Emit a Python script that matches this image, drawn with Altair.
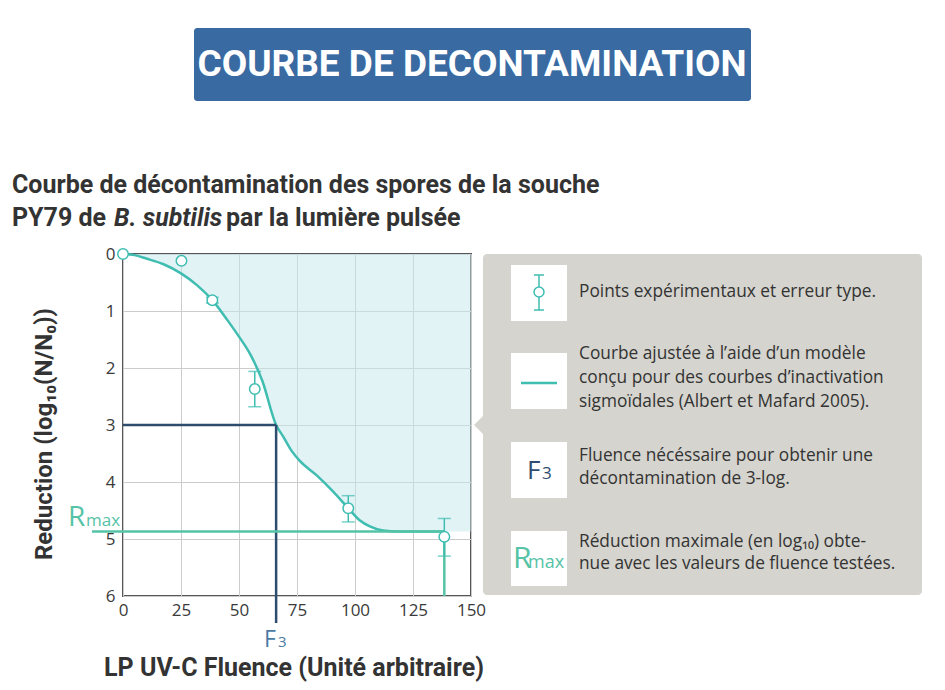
import altair as alt
import pandas as pd

# ---------------- data ----------------
fluence = [0, 25.2, 38.5, 56.8, 97.1, 138.5]
reduction = [0, 0.12, 0.81, 2.37, 4.46, 4.96]
err_low = [0, 0.12, 0.76, 2.06, 4.24, 4.64]
err_high = [0, 0.12, 0.86, 2.68, 4.70, 5.30]

curve_x = [0, 5, 10, 17.5, 25, 32, 38.5, 45, 50, 55, 60, 66, 69, 72.6, 76.2,
           83.4, 90.6, 97.1, 102, 106.4, 112, 119, 130, 138.5]
curve_y = [0, 0.02, 0.08, 0.18, 0.34, 0.55, 0.81, 1.16, 1.45, 1.77, 2.22, 3.0,
           3.2, 3.45, 3.63, 3.88, 4.17, 4.46, 4.67, 4.78, 4.85, 4.87, 4.87, 4.87]
fill_x = curve_x + [150]
fill_y = curve_y + [4.87]

f3_fluence = 66
f3_log = 3
rmax = 4.87
rmax_fluence = 138.5
y_max = 6

x_ticks = [0, 25, 50, 75, 100, 125, 150]
y_ticks = [0, 1, 2, 3, 4, 5, 6]

main_title = "COURBE DE DECONTAMINATION"
sub_title_1 = "Courbe de décontamination des spores de la souche"
sub_title_2 = ["PY79 de", "B. subtilis", "par la lumière pulsée"]
x_title = "LP UV-C Fluence (Unité arbitraire)"
y_title = "Reduction (log₁₀(N/N₀))"
legend_texts = [
    ["Points expérimentaux et erreur type."],
    ["Courbe ajustée à l’aide d’un modèle",
     "conçu pour des courbes d’inactivation",
     "sigmoïdales (Albert et Mafard 2005)."],
    ["Fluence nécéssaire pour obtenir une",
     "décontamination de 3-log."],
    ["Réduction maximale (en log₁₀) obte-",
     "nue avec les valeurs de fluence testées."],
]

# ---------------- styles ----------------
TEAL = "#3fbdb1"
RMAX_C = "#55c3a6"
NAVY = "#2d4c6e"
F3_C = "#4a7aa3"
FILL = "#c6e8ee"
PANEL = "#d5d4ce"
BANNER = "#3a6aa2"
COND = "Roboto"
BODY = "Open Sans"

xs = alt.Scale(domain=[0, 150], nice=False, zero=False)
ys = alt.Scale(domain=[0, 6], reverse=True, nice=False, zero=False)
x_axis = alt.Axis(values=x_ticks, title=None, grid=True, ticks=False, domain=False,
                  labelPadding=6, labelFontSize=17, labelFont=BODY, labelColor="#3a3a3a",
                  gridColor="#cccccc", labelFlush=False)
y_axis = alt.Axis(values=y_ticks, title=None, grid=True, ticks=False, domain=False,
                  labelPadding=8, labelFontSize=17, labelFont=BODY, labelColor="#3a3a3a",
                  gridColor="#cccccc")

one = pd.DataFrame({"k": [0]})


def X(f):
    return alt.X(f, type="quantitative", scale=xs, axis=x_axis)


def Y(f):
    return alt.Y(f, type="quantitative", scale=ys, axis=y_axis)


def txt(text, x, y, size, color="#333", font=BODY, weight="normal",
        align="left", baseline="middle", angle=0, style="normal"):
    kw = dict(text=text, fontSize=size, color=color, font=font, fontWeight=weight,
              align=align, baseline=baseline, fontStyle=style)
    if angle:
        kw["angle"] = angle
    return alt.Chart(one).mark_text(**kw).encode(x=alt.value(x), y=alt.value(y))


def box(x, x2, y, y2, color, radius=0):
    return alt.Chart(one).mark_rect(color=color, cornerRadius=radius).encode(
        x=alt.value(x), x2=alt.value(x2), y=alt.value(y), y2=alt.value(y2))


def seg(x, x2, y, y2, color, w=2):
    return alt.Chart(one).mark_rule(color=color, strokeWidth=w).encode(
        x=alt.value(x), x2=alt.value(x2), y=alt.value(y), y2=alt.value(y2))


pts = pd.DataFrame({"x": fluence, "y": reduction, "lo": err_low, "hi": err_high})
bars = pts[pts["hi"] > pts["lo"]]
curve = pd.DataFrame({"x": curve_x, "y": curve_y})
fill = pd.DataFrame({"x": fill_x, "y": fill_y})

area = alt.Chart(fill).mark_area(color=FILL, opacity=0.5, interpolate="monotone").encode(
    x=X("x"), y=Y("y"))
line = alt.Chart(curve).mark_line(color=TEAL, strokeWidth=2.5, interpolate="monotone").encode(
    x=X("x"), y=Y("y"), order="x:Q")

f3_df = pd.DataFrame({"x": [f3_fluence], "y": [f3_log], "x0": [0]})
f3_h = alt.Chart(f3_df).mark_rule(color=NAVY, strokeWidth=2.5).encode(
    x=X("x0"), x2="x", y=Y("y"))
f3_v = alt.Chart(f3_df).mark_rule(color=NAVY, strokeWidth=2.5).encode(
    x=X("x"), y=Y("y"), y2=alt.value(369))

rm_df = pd.DataFrame({"x": [rmax_fluence], "y": [rmax], "ybot": [y_max]})
rm_h = alt.Chart(rm_df).mark_rule(color=RMAX_C, strokeWidth=2.5).encode(
    x=X("x"), x2=alt.value(-31), y=Y("y"))
rm_v = alt.Chart(rm_df).mark_rule(color=RMAX_C, strokeWidth=2.5).encode(
    x=X("x"), y=Y("y"), y2="ybot")

err = alt.Chart(bars).mark_rule(color=TEAL, strokeWidth=1.5).encode(
    x=X("x"), y=Y("lo"), y2="hi")
cap_lo = alt.Chart(bars).mark_tick(color=TEAL, orient="horizontal", size=13, thickness=1.5).encode(
    x=X("x"), y=Y("lo"))
cap_hi = alt.Chart(bars).mark_tick(color=TEAL, orient="horizontal", size=13, thickness=1.5).encode(
    x=X("x"), y=Y("hi"))
dots = alt.Chart(pts).mark_point(shape="circle", filled=True, fill="white", stroke=TEAL,
                                 strokeWidth=1.5, size=110, opacity=1).encode(
    x=X("x"), y=Y("y"))

# ---------------- annotations / decorations ----------------
deco = [
    box(71, 628, -226, -153, BANNER, radius=3),
    txt(main_title, 349, -189, 37, color="white", font=COND, weight="bold", align="center"),
    txt(sub_title_1, -111, -69, 25, font=COND, weight="bold"),
    txt(sub_title_2[0], -111, -36, 25, font=COND, weight="bold"),
    txt(sub_title_2[1], -9, -36, 25, font=COND, weight="bold", style="italic"),
    txt(sub_title_2[2], 103, -36, 25, font=COND, weight="bold"),
    txt(y_title, -78, 180, 24, font=COND, weight="bold", align="center", angle=270),
    txt(x_title, 171, 414, 25, font=COND, weight="bold", align="center"),
    txt("F", 141, 393, 23, color=F3_C, align="left", baseline="alphabetic"),
    txt("3", 141 + 14, 393, 15, color=F3_C, align="left", baseline="alphabetic"),
    txt("R", -55, 272, 28, color=RMAX_C, align="left", baseline="alphabetic"),
    txt("max", -37, 272, 17, color=RMAX_C, align="left", baseline="alphabetic"),
    # legend panel
    box(360, 799, 0, 341, PANEL, radius=4),
    alt.Chart(one).mark_point(shape="M 0 -1 L -1 0 L 0 1 Z", filled=True, fill=PANEL,
                              opacity=1, size=400, strokeWidth=0).encode(
        x=alt.value(361), y=alt.value(171)),
    box(388, 444, 11, 67, "white"),
    box(388, 444, 99, 155, "white"),
    box(388, 444, 188, 244, "white"),
    box(388, 444, 277, 332, "white"),
    seg(416, 416, 21, 56, TEAL, 1.5),
    seg(411, 421, 21, 21, TEAL, 1.5),
    seg(411, 421, 56, 56, TEAL, 1.5),
    alt.Chart(one).mark_point(shape="circle", filled=True, fill="white", stroke=TEAL,
                              strokeWidth=1.5, size=100, opacity=1).encode(
        x=alt.value(416), y=alt.value(38)),
    seg(398, 434, 129, 129, TEAL, 2.5),
    txt("F", 404, 225, 26, color=NAVY, baseline="alphabetic"),
    txt("3", 419, 225, 17, color=NAVY, baseline="alphabetic"),
    txt("R", 390, 314, 30, color=RMAX_C, baseline="alphabetic"),
    txt("max", 405, 314, 18, color=RMAX_C, baseline="alphabetic"),
]

legend_y = [[38], [100, 124, 148], [202, 225], [288, 310]]
for lines, ys_ in zip(legend_texts, legend_y):
    for t, yy in zip(lines, ys_):
        deco.append(txt(t, 456, yy, 17.3))

chart = alt.layer(
    area, line, f3_h, f3_v, rm_h, rm_v, err, cap_lo, cap_hi, dots, *deco
).properties(
    width=348, height=342,
    padding={"left": 115, "top": 246, "right": 466, "bottom": 86},
    autosize=alt.AutoSizeParams(type="none"),
    background="white",
).configure_view(
    stroke="#555555", strokeWidth=2
)

chart.save("out.html", embed_options={"renderer": "svg", "actions": False})
